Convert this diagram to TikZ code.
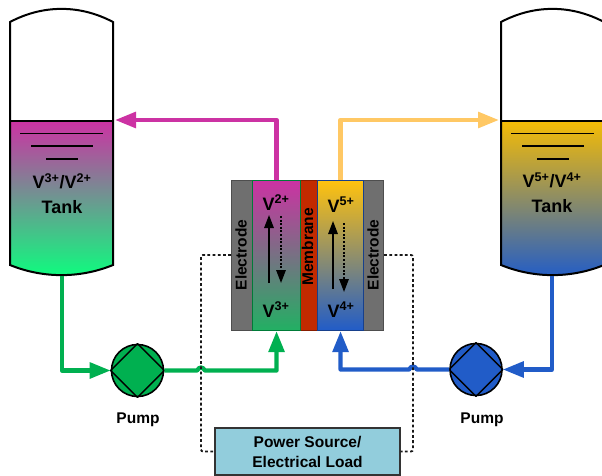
\documentclass[tikz,border=0pt]{standalone}
\usepackage{fontspec}
\setmainfont{Liberation Sans}
\usepackage{xcolor}
\usetikzlibrary{arrows.meta,positioning,shapes.geometric}
\definecolor{vmag}{HTML}{CC32A3}
\definecolor{vgreen}{HTML}{00B050}
\definecolor{vbright}{HTML}{0BFF7E}
\definecolor{vcell}{HTML}{22B063}
\definecolor{vyellow}{HTML}{FFC20E}
\definecolor{vtank}{HTML}{F5BC05}
\definecolor{vblue}{HTML}{215CC8}
\definecolor{vpale}{HTML}{FFC864}
\definecolor{elec}{HTML}{6F6F6F}
\definecolor{memb}{HTML}{C22A00}
\definecolor{load}{HTML}{92CDDC}
\newcommand{\ionv}[1]{V\textsuperscript{#1+}}
\tikzset{
  lbl/.style={font=\fontsize{15.5}{20}\selectfont\bfseries, text=black, inner sep=0pt},
  big/.style={font=\fontsize{18}{25}\selectfont\bfseries, text=black, inner sep=0pt, align=center},
  layer/.style={draw=#1!70!black, line width=1.1pt, minimum height=150pt, inner sep=0pt, anchor=north west},
  pumpbox/.style={circle, draw=black, line width=1.6pt, minimum size=52pt, inner sep=0pt},
  pipe/.style={line width=4.3pt, draw=#1, line join=round, -{Triangle[length=21pt, width=15.5pt]}},
  wire/.style={line width=1.8pt, dash pattern=on 2.8pt off 2.4pt, draw=black!90, rounded corners=2pt},
  updn/.style={line width=1.5pt, -{Triangle[length=13pt, width=9.5pt]}},
  updnd/.style={updn, dash pattern=on 2pt off 1.6pt}
}
\begin{document}
\begin{tikzpicture}[x=1pt,y=-1pt]
  \useasboundingbox (0,0) rectangle (602,476);

  % tanks
  \foreach \x/\ca/\cb in {10/vmag/vbright, 501/vtank/vblue} {
    \path[top color=\ca, bottom color=\cb] (\x,121) -- (\x+103,121) -- (\x+103,265)
      .. controls (\x+70,278.5) and (\x+33,278.5) .. (\x,265) -- cycle;
    \draw[line width=2pt] (\x,121) -- (\x,22) .. controls (\x+33,4.5) and (\x+70,4.5) .. (\x+103,22)
      -- (\x+103,265) .. controls (\x+70,278.5) and (\x+33,278.5) .. (\x,265) -- cycle;
    \draw[line width=1.2pt] (\x,121) -- (\x+103,121);
    \draw[line width=1.3pt] (\x+10,133.5) -- (\x+93,133.5);
    \draw[line width=1.3pt] (\x+21,146) -- (\x+83,146);
    \draw[line width=1.3pt] (\x+36,159) -- (\x+68,159);
  }
  \node[big] (tankl) at (62,194) {\ionv{3}/\ionv{2}\\Tank};
  \node[big] (tankr) at (552,193) {\ionv{5}/\ionv{4}\\Tank};
  \coordinate (inl) at (115,120);
  \coordinate (outl) at (62,276);
  \coordinate (inr) at (499,120);
  \coordinate (outr) at (552,276);

  % cell
  \node[layer=elec, fill=elec, minimum width=21pt] (elecl) at (231,180) {};
  \node[layer=elec, fill=elec, minimum width=20pt] (elecr) at (363,180) {};
  \node[layer=memb, fill=memb, minimum width=17pt] (memb) at (300,180) {};
  \node[layer=vgreen, top color=vmag, bottom color=vcell, minimum width=48pt] (cellg) at (252,180) {};
  \node[layer=vblue, top color=vyellow, bottom color=vblue, minimum width=46pt] (cellb) at (317,180) {};
  \node[lbl, rotate=90] at (241,255) {Electrode};
  \node[lbl, rotate=90] at (373,255) {Electrode};
  \node[lbl, rotate=90] at (307.5,247) {Membrane};
  \node[big, anchor=base] at (276,210) {\ionv{2}};
  \node[big, anchor=base] at (276,317) {\ionv{3}};
  \node[big, anchor=base] at (341,212) {\ionv{5}};
  \node[big, anchor=base] at (341,317) {\ionv{4}};
  \draw[updn] (269,283) -- (269,215);
  \draw[updnd] (281,216) -- (281,283);
  \draw[updn] (333,289) -- (333,221);
  \draw[updnd] (344,223) -- (344,292);

  % pumps
  \node[pumpbox, fill=vgreen] (pumpg) at (137.5,370.5) {};
  \node[pumpbox, fill=vblue] (pumpb) at (476,369.5) {};
  \foreach \p in {pumpg, pumpb} {
    \draw[line width=1.4pt, line join=round] (\p.north) -- (\p.east) -- (\p.south) -- (\p.west) -- cycle;
  }
  \node[lbl] (labg) at (138,420) {Pump};
  \node[lbl] (labb) at (482,420) {Pump};

  \node[draw=black!80, fill=load, line width=1.4pt, lbl, align=center, minimum width=185pt, minimum height=47pt] (power) at (307.5,451.5) {Power Source/\\Electrical Load};

  % pipes
  \coordinate (hopg) at (201,370.5);
  \coordinate (hopb) at (413,369.5);
  \draw[pipe=vmag] (cellg.north) |- (inl);
  \draw[pipe=vpale] (cellb.north) |- (inr);
  \draw[pipe=vgreen] (outl) |- (pumpg.west);
  \draw[pipe=vblue] (outr) |- (pumpb.east);
  \draw[pipe=vgreen] (pumpg.east) -- ([xshift=-4pt]hopg)
    .. controls ([shift={(-1.5pt,4pt)}]hopg) and ([shift={(1.5pt,4pt)}]hopg) .. ([xshift=4pt]hopg) -| (cellg.south);
  \draw[pipe=vblue] (pumpb.west) -- ([xshift=4pt]hopb)
    .. controls ([shift={(1.5pt,4pt)}]hopb) and ([shift={(-1.5pt,4pt)}]hopb) .. ([xshift=-4pt]hopb) -| (cellb.south);

  % dashed leads
  \draw[wire] (elecl.west |- 0,255) -| (hopg |- power) -- (power.west);
  \draw[wire] (elecr.east |- 0,255) -| (hopb |- power) -- (power.east);
\end{tikzpicture}
\end{document}
